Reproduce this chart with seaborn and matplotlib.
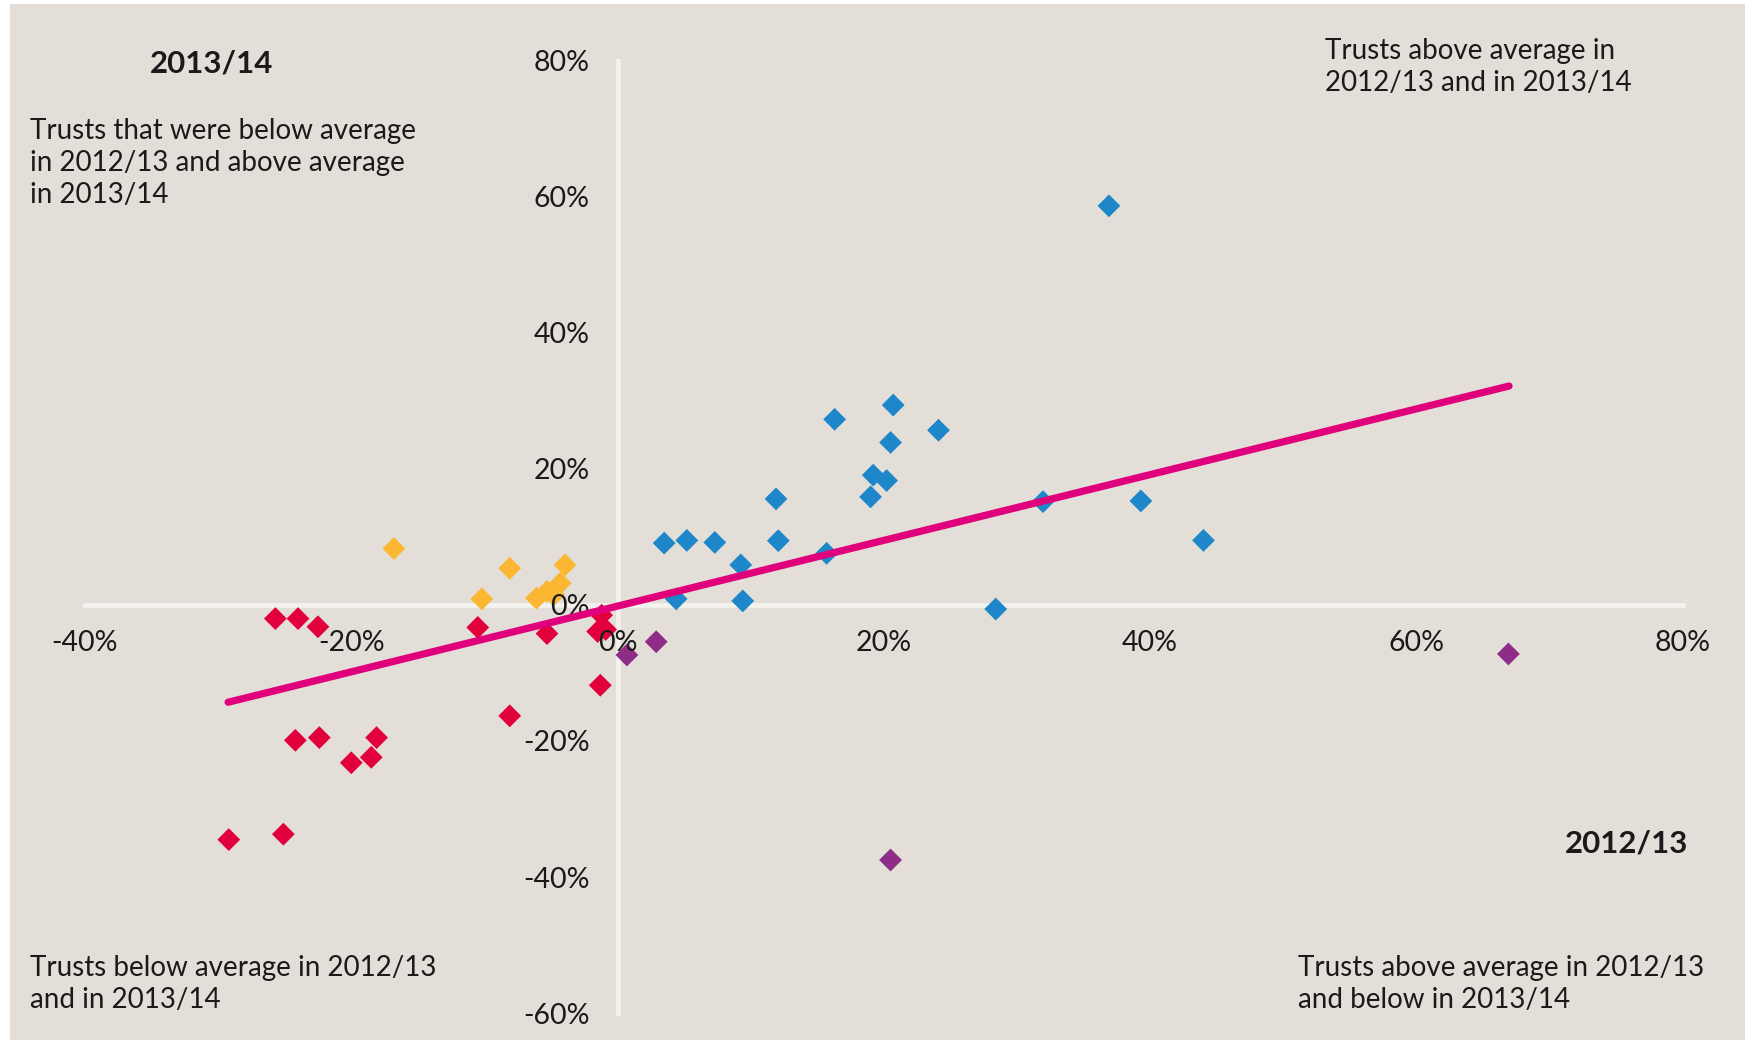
import matplotlib
matplotlib.use("Agg")
import matplotlib.pyplot as plt
import seaborn as sns
import pandas as pd

# ---- data (percent) ----
red_x = [-25.7, -24.0, -22.5, -10.5, -5.3, -1.2, -1.5, -0.9, -1.3, -8.1,
         -24.2, -22.4, -18.1, -18.5, -20.0, -29.2, -25.1]
red_y = [-2.0, -2.0, -3.2, -3.3, -4.2, -1.5, -3.9, -3.6, -11.8, -16.3,
         -19.9, -19.5, -19.5, -22.4, -23.2, -34.5, -33.7]

yellow_x = [-16.8, -8.1, -10.2, -3.95, -4.3, -5.3, -6.1, -4.8]
yellow_y = [8.3, 5.4, 0.9, 5.9, 3.2, 2.0, 1.0, 1.5]

blue_x = [36.9, 20.7, 16.3, 24.1, 20.5, 19.2, 20.2, 19.0, 11.9, 31.95, 39.3,
          44.0, 3.5, 5.2, 7.3, 12.07, 15.7, 9.25, 4.4, 9.4, 28.4]
blue_y = [58.7, 29.4, 27.3, 25.7, 23.9, 19.1, 18.3, 15.9, 15.6, 15.2, 15.3,
          9.5, 9.1, 9.5, 9.2, 9.46, 7.6, 5.9, 0.9, 0.6, -0.6]

purple_x = [0.7, 2.9, 66.9, 20.5]
purple_y = [-7.35, -5.4, -7.2, -37.5]

trend_x = [-29.25, 66.95]
trend_y = [-14.3, 32.2]

x_ticks = [-40, -20, 0, 20, 40, 60, 80]
y_ticks = [-60, -40, -20, 0, 20, 40, 60, 80]

groups = ["red", "yellow", "blue", "purple"]
colors = {"red": "#e2003c", "yellow": "#fbb731", "blue": "#1d87c9", "purple": "#8f2c87"}

df = pd.concat([
    pd.DataFrame({"x": red_x, "y": red_y, "group": "red"}),
    pd.DataFrame({"x": yellow_x, "y": yellow_y, "group": "yellow"}),
    pd.DataFrame({"x": blue_x, "y": blue_y, "group": "blue"}),
    pd.DataFrame({"x": purple_x, "y": purple_y, "group": "purple"}),
], ignore_index=True)

sns.set_theme(style="white")
plt.rcParams["font.family"] = ["Lato", "DejaVu Sans"]

W, H = 1745, 1040
fig = plt.figure(figsize=(W / 100, H / 100), dpi=100)
fig.patch.set_facecolor("white")
ax = fig.add_axes([10 / W, 0, 1735 / W, 1036 / H])
ax.set_facecolor("#e3dfd8")
ax.set_xlim(-45.63, 84.67)
ax.set_ylim(-63.97, 88.38)

axis_col = "#f4f2ee"
for side in ["top", "right"]:
    ax.spines[side].set_visible(False)
ax.spines["left"].set_position(("data", 0))
ax.spines["bottom"].set_position(("data", 0))
ax.spines["left"].set_bounds(-60, 80)
ax.spines["bottom"].set_bounds(-40, 80)
for side in ["left", "bottom"]:
    ax.spines[side].set_color(axis_col)
    ax.spines[side].set_linewidth(3.4)
    ax.spines[side].set_zorder(0.5)

sns.scatterplot(data=df, x="x", y="y", hue="group", hue_order=groups,
                palette=colors, marker="D", s=135, linewidth=0,
                legend=False, ax=ax, zorder=2)
sns.lineplot(x=trend_x, y=trend_y, color="#e0007b", linewidth=5.2, ax=ax,
             zorder=3, solid_capstyle="round")

ax.set_xticks(x_ticks)
ax.set_yticks(y_ticks)
ax.set_xticklabels([f"{v}%" for v in x_ticks])
ax.set_yticklabels([f"{v}%" for v in y_ticks])
ax.tick_params(axis="both", direction="out", length=4, width=3.4,
               color=axis_col, labelsize=20.5, labelcolor="#1a1a1a")
ax.tick_params(axis="x", pad=14)
ax.tick_params(axis="y", pad=16)
ax.set_axisbelow(False)
ax.set_xlabel("")
ax.set_ylabel("")
ax.grid(False)

def ftxt(x, y, s, **kw):
    fig.text(x / W, 1 - y / H, s, color="#1a1a1a", **kw)

fs = 20
ftxt(212, 63, "2013/14", ha="center", va="center", fontsize=22.5, fontweight="bold")
ftxt(30, 131, "Trusts that were below average", ha="left", va="center", fontsize=fs)
ftxt(30, 163, "in 2012/13 and above average", ha="left", va="center", fontsize=fs)
ftxt(30, 195, "in 2013/14", ha="left", va="center", fontsize=fs)

ftxt(1325, 51, "Trusts above average in", ha="left", va="center", fontsize=fs)
ftxt(1325, 83, "2012/13 and in 2013/14", ha="left", va="center", fontsize=fs)

ftxt(1688, 844, "2012/13", ha="right", va="center", fontsize=22.5, fontweight="bold")

ftxt(30, 968, "Trusts below average in 2012/13", ha="left", va="center", fontsize=fs)
ftxt(30, 1000, "and in 2013/14", ha="left", va="center", fontsize=fs)

ftxt(1298, 968, "Trusts above average in 2012/13", ha="left", va="center", fontsize=fs)
ftxt(1298, 1000, "and below in 2013/14", ha="left", va="center", fontsize=fs)

fig.savefig("out.png", dpi=100, facecolor=fig.get_facecolor())
